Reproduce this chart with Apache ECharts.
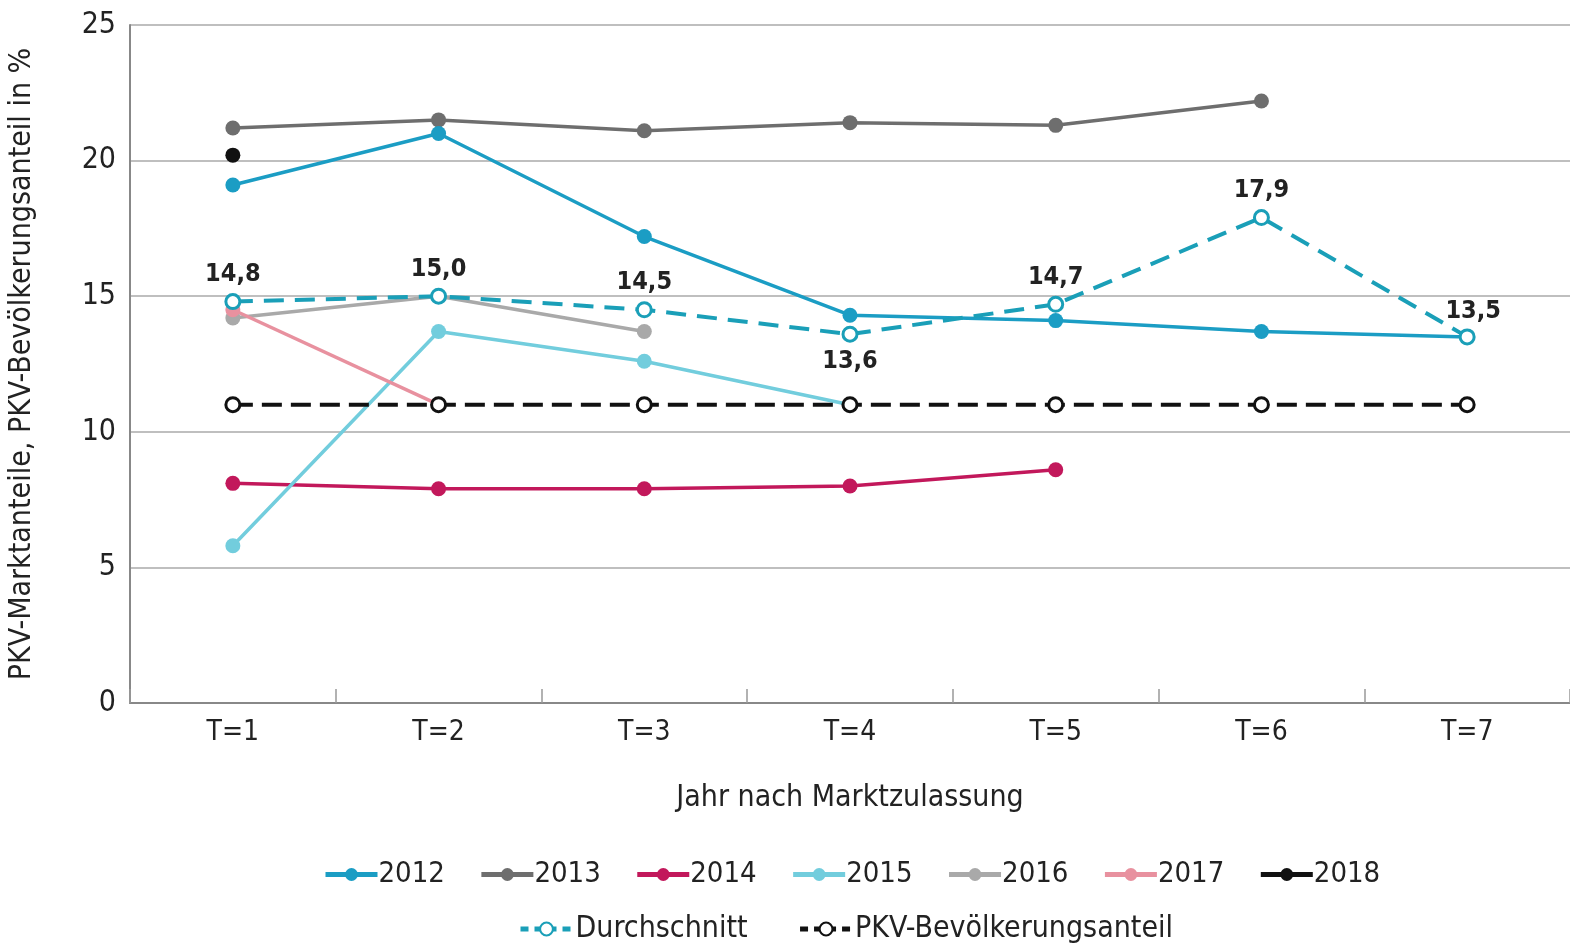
<!DOCTYPE html>
<html><head><meta charset="utf-8">
<script src="https://cdn.jsdelivr.net/npm/echarts@6/dist/echarts.min.js"></script>
<style>html,body{margin:0;padding:0;background:#fff}#c{width:1570px;height:947px}</style>
</head><body><div id="c"></div>
<script>
const categories = ['T=1','T=2','T=3','T=4','T=5','T=6','T=7'];
const s2012 = [19.1, 21.0, 17.2, 14.3, 14.1, 13.7, 13.5];
const s2013 = [21.2, 21.5, 21.1, 21.4, 21.3, 22.2, null];
const s2014 = [8.1, 7.9, 7.9, 8.0, 8.6, null, null];
const s2015 = [5.8, 13.7, 12.6, 11.0, null, null, null];
const s2016 = [14.2, 15.0, 13.7, null, null, null, null];
const s2017 = [14.5, 11.0, null, null, null, null, null];
const s2018 = [20.2, null, null, null, null, null, null];
const durchschnitt = [14.8, 15.0, 14.5, 13.6, 14.7, 17.9, 13.5];
const pkvAnteil = [11.0, 11.0, 11.0, 11.0, 11.0, 11.0, 11.0];

const FONT = '"DejaVu Sans Condensed","Liberation Sans Narrow",sans-serif';
const TXT = '#222';

function yearSeries(name, data, color, z) {
  return {
    name, type: 'line', data, z: z || 2,
    symbol: 'circle', symbolSize: 15,
    itemStyle: { color },
    lineStyle: { color, width: 3.5 },
    emphasis: { disabled: true },
    connectNulls: false
  };
}

const avgLabelPos = ['top','top','top','bottom','top','top','top'];
const avgData = durchschnitt.map((v, i) => ({
  value: v,
  label: { position: avgLabelPos[i], offset: i === 6 ? [6, 2] : [0, 0] }
}));

const AVG = '#1a9fb8';
const chart = echarts.init(document.getElementById('c'));
chart.setOption({
  animation: false,
  textStyle: { fontFamily: FONT },
  grid: { left: 130, right: 0, top: 25, bottom: 244, outerBoundsMode: 'none', containLabel: false },
  legend: [
    {
      data: ['2012','2013','2014','2015','2016','2017','2018'],
      top: 855, left: 318, itemWidth: 52, itemHeight: 16, itemGap: 34,
      lineStyle: { width: 5 },
      textStyle: { fontSize: 29, color: TXT, fontFamily: FONT, padding: [0, 0, 0, -4] }
    },
    {
      data: [
        { name: 'Durchschnitt', lineStyle: { type: [8, 6], width: 5 } },
        { name: 'PKV-Bevölkerungsanteil', lineStyle: { type: [8, 6], width: 5 } }
      ],
      top: 909, left: 513, itemWidth: 52, itemHeight: 16, itemGap: 50,
      textStyle: { fontSize: 30, color: TXT, fontFamily: FONT, padding: [0, 0, 0, -2] }
    }
  ],
  xAxis: {
    type: 'category', data: categories, boundaryGap: true,
    axisLine: { lineStyle: { color: '#888', width: 2 } },
    axisTick: { show: true, inside: true, length: 14, lineStyle: { color: '#999', width: 1.5 } },
    axisLabel: { fontSize: 28, color: TXT, margin: 16, fontFamily: FONT },
    name: 'Jahr nach Marktzulassung', nameLocation: 'middle', nameGap: 80,
    nameTextStyle: { fontSize: 30, color: TXT, fontFamily: FONT }
  },
  yAxis: {
    type: 'value', min: 0, max: 25, interval: 5,
    axisLine: { show: true, lineStyle: { color: '#888', width: 2 } },
    axisTick: { show: false },
    splitLine: { lineStyle: { color: '#aaa', width: 1.5 } },
    axisLabel: { fontSize: 30, color: TXT, margin: 14, fontFamily: FONT },
    name: 'PKV-Marktanteile, PKV-Bevölkerungsanteil in %', nameLocation: 'middle', nameGap: 93,
    nameTextStyle: { fontSize: 30, color: TXT, fontFamily: FONT }
  },
  series: [
    yearSeries('2012', s2012, '#1b9dc4', 4),
    yearSeries('2013', s2013, '#6e6e6e', 3),
    yearSeries('2014', s2014, '#c2185b', 3),
    yearSeries('2015', s2015, '#72cddd', 3),
    yearSeries('2016', s2016, '#a9a9a9', 3),
    yearSeries('2017', s2017, '#e8919f', 3),
    yearSeries('2018', s2018, '#111111', 3),
    {
      name: 'Durchschnitt', type: 'line', data: avgData, z: 6,
      symbol: 'circle', symbolSize: 14,
      itemStyle: { color: '#ffffff', borderColor: AVG, borderWidth: 3 },
      lineStyle: { color: AVG, width: 4, type: [20, 11] },
      label: { show: true, fontSize: 25, color: '#222', fontFamily: FONT, fontWeight: 600,
               distance: 6, formatter: p => p.value.toFixed(1).replace('.', ',') },
      emphasis: { disabled: true }
    },
    {
      name: 'PKV-Bevölkerungsanteil', type: 'line', data: pkvAnteil, z: 5,
      symbol: 'circle', symbolSize: 14,
      itemStyle: { color: '#ffffff', borderColor: '#111', borderWidth: 3 },
      lineStyle: { color: '#111', width: 4, type: [20, 9] },
      emphasis: { disabled: true }
    }
  ]
});
</script></body></html>
